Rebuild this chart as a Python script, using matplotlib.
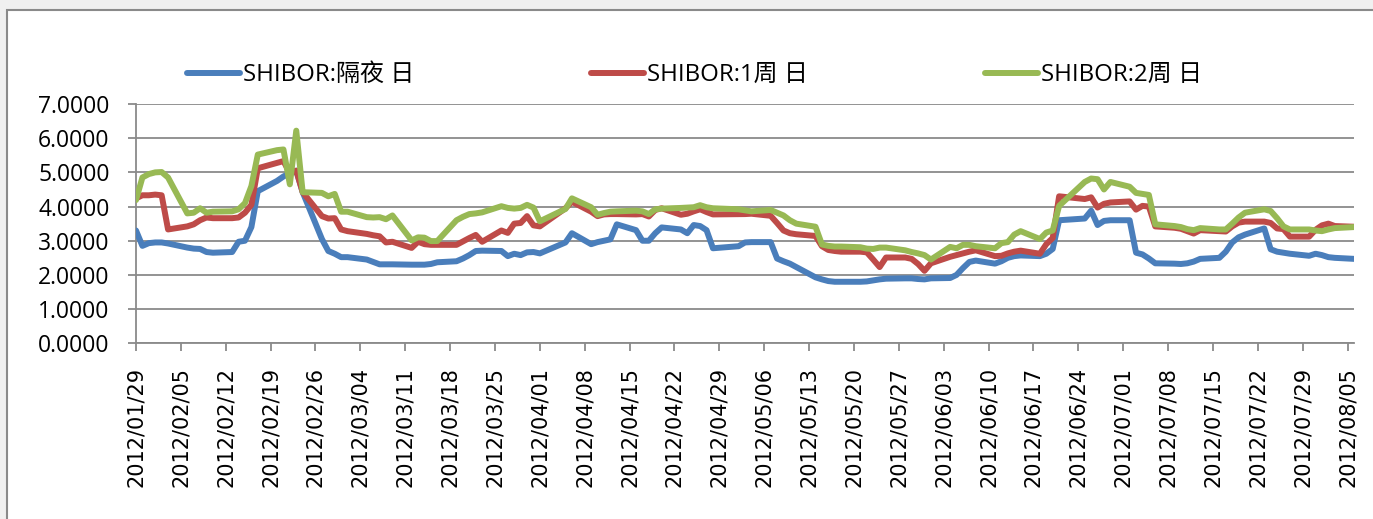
import matplotlib
matplotlib.use('Agg')
import matplotlib.pyplot as plt
import matplotlib.dates as mdates
from matplotlib.patches import Rectangle
from matplotlib.font_manager import FontProperties
from datetime import date

# trading days (China interbank calendar 2012), by month
trade_days = {
    (2012, 1): [29, 30, 31],
    (2012, 2): [1, 2, 3, 6, 7, 8, 9, 10, 13, 14, 15, 16, 17, 20, 21, 22, 23, 24, 27, 28, 29],
    (2012, 3): [1, 2, 5, 6, 7, 8, 9, 12, 13, 14, 15, 16, 19, 20, 21, 22, 23, 26, 27, 28, 29, 30, 31],
    (2012, 4): [1, 5, 6, 9, 10, 11, 12, 13, 16, 17, 18, 19, 20, 23, 24, 25, 26, 27, 28],
    (2012, 5): [2, 3, 4, 7, 8, 9, 10, 11, 14, 15, 16, 17, 18, 21, 22, 23, 24, 25, 28, 29, 30, 31],
    (2012, 6): [1, 4, 5, 6, 7, 8, 11, 12, 13, 14, 15, 18, 19, 20, 21, 25, 26, 27, 28, 29],
    (2012, 7): [2, 3, 4, 5, 6, 9, 10, 11, 12, 13, 16, 17, 18, 19, 20, 23, 24, 25, 26, 27, 30, 31],
    (2012, 8): [1, 2, 3, 6],
}
dates = [date(y, m, d) for (y, m), days in trade_days.items() for d in days]

overnight = [
    3.30, 2.85, 2.93,
    2.95, 2.95, 2.92, 2.80, 2.77, 2.76, 2.67, 2.65, 2.67, 2.97, 3.00, 3.40, 4.45, 4.75, 4.88, 4.97, 5.05, 4.42, 3.05, 2.70, 2.62,
    2.52, 2.52, 2.45, 2.38, 2.31, 2.31, 2.31, 2.30, 2.30, 2.30, 2.32, 2.37, 2.40, 2.48, 2.58, 2.70, 2.71, 2.70, 2.55, 2.62, 2.58, 2.66, 2.67,
    2.63, 2.95, 3.22, 2.90, 2.96, 3.00, 3.04, 3.48, 3.31, 3.00, 3.00, 3.22, 3.39, 3.33, 3.22, 3.46, 3.43, 3.31, 2.78,
    2.84, 2.95, 2.96, 2.96, 2.48, 2.40, 2.33, 2.23, 1.93, 1.87, 1.82, 1.80, 1.80, 1.80, 1.81, 1.84, 1.87, 1.89, 1.90, 1.90, 1.88, 1.87,
    1.90, 1.91, 2.00, 2.20, 2.38, 2.42, 2.33, 2.40, 2.50, 2.55, 2.57, 2.55, 2.62, 2.76, 3.60, 3.65, 3.88, 3.46, 3.58, 3.60,
    3.60, 2.65, 2.60, 2.48, 2.34, 2.33, 2.32, 2.34, 2.39, 2.47, 2.50, 2.68, 2.95, 3.10, 3.18, 3.36, 2.75, 2.68, 2.65, 2.62, 2.56, 2.62,
    2.58, 2.52, 2.50, 2.47,
]
week1 = [
    4.24, 4.33, 4.33,
    4.35, 4.33, 3.33, 3.42, 3.48, 3.60, 3.68, 3.66, 3.66, 3.68, 3.82, 4.05, 5.12, 5.28, 5.33, 4.98, 5.05, 4.42, 3.72, 3.65, 3.66,
    3.33, 3.28, 3.20, 3.16, 3.13, 2.95, 2.97, 2.79, 2.97, 2.90, 2.88, 2.88, 2.88, 2.98, 3.08, 3.17, 2.97, 3.30, 3.23, 3.50, 3.52, 3.72, 3.45,
    3.42, 3.95, 4.14, 3.85, 3.72, 3.77, 3.78, 3.78, 3.77, 3.78, 3.71, 3.90, 3.95, 3.76, 3.79, 3.86, 3.92, 3.84, 3.77,
    3.78, 3.78, 3.79, 3.73, 3.52, 3.30, 3.22, 3.19, 3.14, 2.84, 2.73, 2.70, 2.68, 2.68, 2.66, 2.45, 2.23, 2.51, 2.51, 2.47, 2.32, 2.12,
    2.34, 2.53, 2.58, 2.63, 2.68, 2.72, 2.55, 2.56, 2.63, 2.68, 2.71, 2.62, 2.90, 3.08, 4.30, 4.22, 4.27, 3.97, 4.08, 4.12,
    4.15, 3.91, 4.02, 4.00, 3.42, 3.38, 3.35, 3.28, 3.21, 3.31, 3.28, 3.27, 3.42, 3.53, 3.56, 3.56, 3.52, 3.36, 3.34, 3.12, 3.12, 3.32,
    3.45, 3.50, 3.43, 3.41,
]
week2 = [
    4.19, 4.85, 4.95,
    5.00, 5.01, 4.85, 3.80, 3.82, 3.95, 3.82, 3.85, 3.86, 3.92, 4.10, 4.60, 5.52, 5.65, 5.67, 4.65, 6.22, 4.42, 4.40, 4.30, 4.37,
    3.85, 3.85, 3.69, 3.68, 3.69, 3.63, 3.74, 3.01, 3.10, 3.09, 2.99, 2.99, 3.60, 3.70, 3.78, 3.80, 3.83, 4.01, 3.96, 3.94, 3.96, 4.05, 3.97,
    3.57, 3.93, 4.24, 3.98, 3.76, 3.81, 3.85, 3.86, 3.88, 3.86, 3.78, 3.92, 3.94, 3.96, 3.97, 3.98, 4.04, 3.98, 3.95,
    3.92, 3.89, 3.86, 3.90, 3.82, 3.74, 3.60, 3.50, 3.41, 2.89, 2.85, 2.83, 2.83, 2.81, 2.77, 2.76, 2.80, 2.80, 2.72, 2.67, 2.63, 2.58,
    2.45, 2.82, 2.78, 2.88, 2.88, 2.84, 2.78, 2.93, 2.96, 3.18, 3.28, 3.05, 3.24, 3.30, 4.02, 4.72, 4.82, 4.80, 4.50, 4.72,
    4.58, 4.40, 4.37, 4.34, 3.48, 3.43, 3.40, 3.34, 3.31, 3.37, 3.33, 3.33, 3.50, 3.68, 3.82, 3.92, 3.87, 3.66, 3.42, 3.33, 3.33, 3.30,
    3.28, 3.33, 3.37, 3.40,
]
series_names = ['SHIBOR:隔夜 日', 'SHIBOR:1周 日', 'SHIBOR:2周 日']
series_colors = ['#4A7EBB', '#BE4B48', '#98B954']
y_ticks = [0, 1, 2, 3, 4, 5, 6, 7]

W, H = 1373, 519
fig = plt.figure(figsize=(W / 100, H / 100), dpi=100, facecolor='#f0f0f0')
fig.patches.append(Rectangle((7 / W, -0.05), 1.2, 1 - 10 / H + 0.05, transform=fig.transFigure,
                             facecolor='white', edgecolor='#8a8a8a', lw=1.5, zorder=-5))

ax = fig.add_axes([136 / W, 1 - 343.3 / H, (1354 - 136) / W, (343.3 - 104) / H])
ax.set_zorder(2)
ax.set_facecolor('none')

lines = []
for vals, name, col in zip([overnight, week1, week2], series_names, series_colors):
    ln, = ax.plot(dates, vals, color=col, lw=4.3, label=name,
                  solid_joinstyle='round', solid_capstyle='round', zorder=3)
    lines.append(ln)

ax.set_ylim(0, 7)
ax.set_xlim(date(2012, 1, 29), date(2012, 8, 6))
ax.set_yticks(y_ticks)
ax.yaxis.set_major_formatter(matplotlib.ticker.FormatStrFormatter('%.4f'))
tick_dates = [mdates.date2num(date(2012, 1, 29)) + 7 * i for i in range(28)]
ax.set_xticks(tick_dates)
ax.xaxis.set_major_formatter(mdates.DateFormatter('%Y/%m/%d'))

grid_col = '#8a8a8a'
ax.yaxis.grid(True, color=grid_col, lw=1.3)
ax.set_axisbelow(True)
for s in ['top', 'right']:
    ax.spines[s].set_visible(False)
for s in ['left', 'bottom']:
    ax.spines[s].set_color(grid_col)
    ax.spines[s].set_linewidth(1.3)

ax.tick_params(axis='both', direction='out', length=6, width=1.3, color=grid_col)
ax.tick_params(axis='y', pad=13)
ax.tick_params(axis='x', pad=11)
for lab in ax.get_yticklabels():
    lab.set_fontfamily(['Open Sans', 'DejaVu Sans'])
    lab.set_fontsize(16.5)
for lab in ax.get_xticklabels():
    lab.set_fontfamily('DejaVu Sans')
    lab.set_fontsize(15)
    lab.set_rotation(90)
    lab.set_ha('center')
    lab.set_va('top')

fp = FontProperties(family=['Open Sans', 'Noto Sans CJK SC'], size=17.3)
fig.legend(handles=lines, loc='center left', bbox_to_anchor=(187 / W, 1 - 75 / H),
           ncol=3, frameon=False, borderpad=0, borderaxespad=0,
           handlelength=2.2, handletextpad=0.12, columnspacing=7.38, prop=fp)

fig.savefig('out.png', dpi=100, facecolor=fig.get_facecolor())
